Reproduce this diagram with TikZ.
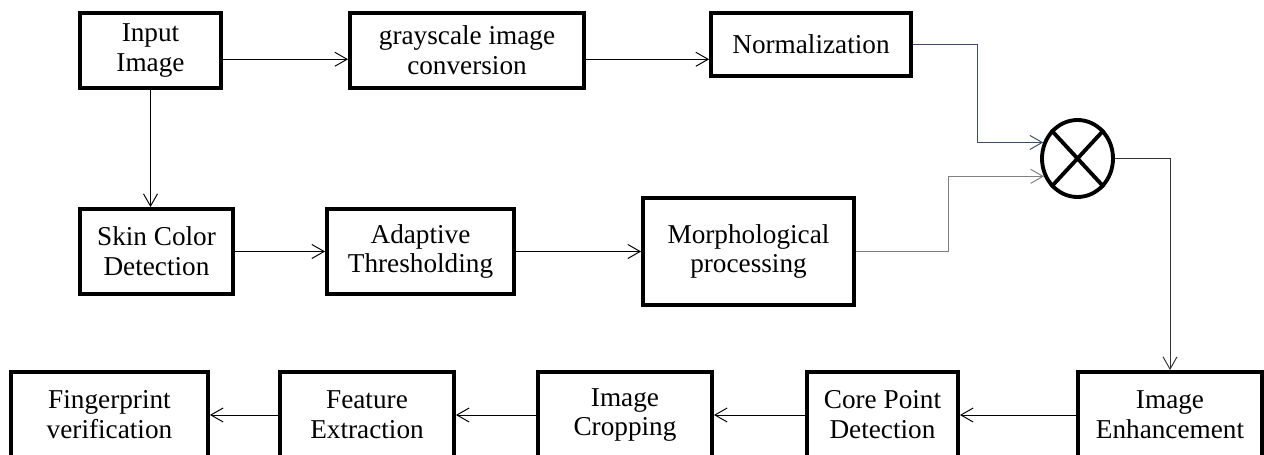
\documentclass[tikz,border=0pt]{standalone}
\usepackage{fontspec}
\setmainfont{Liberation Serif}
\usepackage{xcolor}
\usepackage{tikz}
\usetikzlibrary{positioning,arrows.meta,shapes.geometric}
\definecolor{slate}{HTML}{3E4C6B}
\definecolor{wire}{HTML}{808080}

\begin{document}
\begin{tikzpicture}[
  x=0.02cm, y=-0.02cm,
  font=\fontsize{15.5}{17}\selectfont,
  box/.style={draw, line width=2.2pt, align=center, inner sep=0pt},
  wh/.style 2 args={minimum width=#1*0.02cm, minimum height=#2*0.02cm},
  arr/.style={-{Straight Barb[length=7pt,width=8pt]}, line width=0.55pt}
]
\useasboundingbox (0,0) rectangle (1264,455);
\node[box, wh={141}{75}] (in) at (150.5,50.5) {Input\\Image};
\node[box, wh={234}{75}] (gray) at (467,50.5) {grayscale image\\conversion};
\node[box, wh={200}{63}] (norm) at (811,44.5) {Normalization};
\node[box, wh={153}{85}] (skin) at (156.5,251.5) {Skin Color\\Detection};
\node[box, wh={187}{85}] (adapt) at (420.5,251.5) {Adaptive\\Thresholding};
\node[box, wh={211}{107}] (morph) at (748.5,251.5) {Morphological\\processing};
\node[ellipse, draw, line width=2.2pt, wh={71}{77}, inner sep=0pt] (mul) at (1077.5,158.5) {};
\draw[line width=2.2pt] (mul.north west) -- (mul.south east) (mul.north east) -- (mul.south west);
\node[box, wh={184}{86}] (enh) at (1170,415) {Image\\Enhancement};
\node[box, wh={151}{86}] (core) at (882.5,415) {Core Point\\Detection};
\node[box, wh={174}{86}] (crop) at (625,415) {Image\\Cropping};
\node[box, wh={174}{86}] (feat) at (367,415) {Feature\\Extraction};
\node[box, wh={197}{86}] (fing) at (109.5,415) {Fingerprint\\verification};
\coordinate (bendA) at (977,100);
\coordinate (bendB) at (948,200);
\draw[arr] ([yshift=-5]in.east) -- ([yshift=-5]in.east -| gray.west);
\draw[arr] ([yshift=-5]gray.east) -- ([yshift=-5]gray.east -| norm.west);
\draw[arr] (in.south) -- (skin.north -| in.south);
\draw[arr] (skin.east) -- (adapt.west);
\draw[arr] (adapt.east) -- (morph.west);
\draw[arr, slate] (norm.east) -| (bendA) |- (mul.155);
\draw[arr, wire] (morph.east) -| (bendB) |- (mul.208);
\draw[arr, black!80] (mul.east) -| (enh.north);
\draw[arr] (enh.west) -- (core.east);
\draw[arr] (core.west) -- (crop.east);
\draw[arr] (crop.west) -- (feat.east);
\draw[arr] (feat.west) -- (fing.east);
\end{tikzpicture}
\end{document}
